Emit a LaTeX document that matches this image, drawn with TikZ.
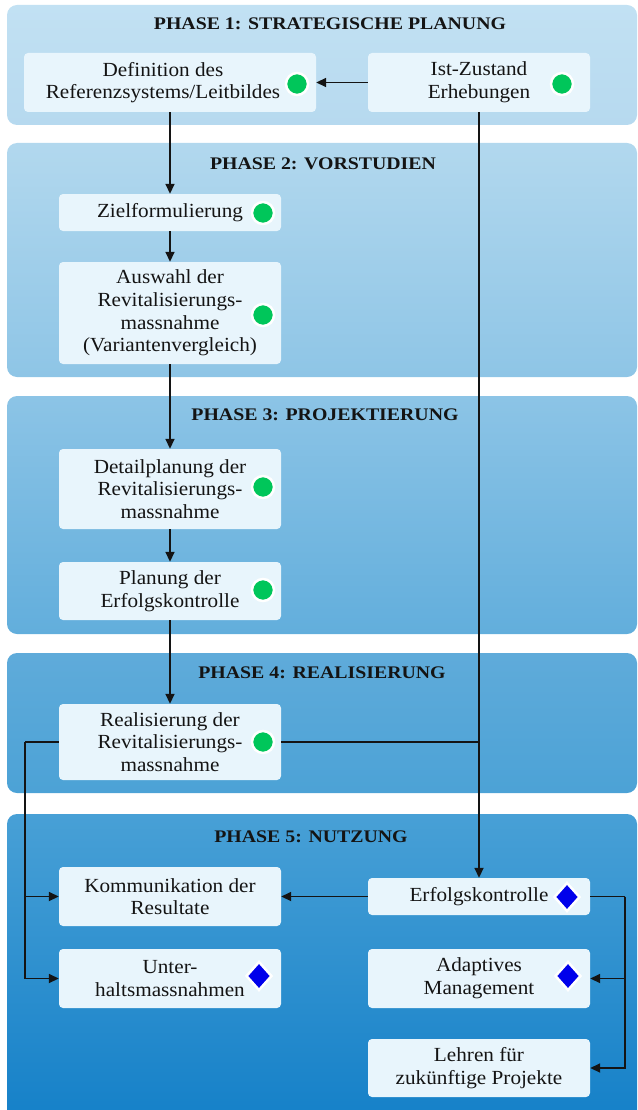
\documentclass[tikz,border=0pt]{standalone}
\usepackage{fontspec}
\setmainfont{Liberation Serif}[FakeStretch=1.06]
\newfontfamily\titlefont{Liberation Serif}[FakeStretch=1.12]
\usetikzlibrary{arrows.meta,shapes.geometric}
\definecolor{boxfill}{HTML}{E8F5FC}
\definecolor{txt}{HTML}{141414}
\definecolor{gdotc}{RGB}{0,198,90}
\definecolor{bdia}{RGB}{0,0,235}
\definecolor{pat}{HTML}{C2E1F3}\definecolor{pab}{HTML}{B6D9EF}
\definecolor{pbt}{HTML}{B2D8EE}\definecolor{pbb}{HTML}{8EC5E6}
\definecolor{pct}{HTML}{8CC4E6}\definecolor{pcb}{HTML}{62AEDC}
\definecolor{pdt}{HTML}{5FABDA}\definecolor{pdb}{HTML}{4CA2D6}
\definecolor{pet}{HTML}{48A0D6}\definecolor{peb}{HTML}{1480C8}
\tikzset{
  panel/.style={rounded corners=10pt},
  box/.style={rectangle, rounded corners=4pt, fill=boxfill, inner sep=0pt, align=center,
    text=txt, font=\fontsize{20}{22.7}\selectfont, minimum width=222pt},
  boxtext/.style={inner sep=0pt, align=center, text=txt, font=\fontsize{20}{22.7}\selectfont},
  ptitle/.style={text=txt, font=\titlefont\bfseries\fontsize{17.7}{20}\selectfont, inner sep=0pt},
  gdot/.style={circle, fill=gdotc, draw=white, line width=2.5pt, minimum size=22pt, inner sep=0pt},
  bdot/.style={diamond, fill=bdia, draw=white, line width=2.5pt, minimum width=26pt, minimum height=29pt, inner sep=0pt},
  arr/.style={-{Triangle[length=10pt,width=9pt]}, line width=1.7pt, draw=black!92},
  plain/.style={line width=1.7pt, draw=black!92}
}
\begin{document}
\begin{tikzpicture}[x=1pt,y=1pt]
\useasboundingbox (0,0) rectangle (637,-1110);
% panels
\shade[panel, top color=pat, bottom color=pab] (7,-5) rectangle (637,-125);
\shade[panel, top color=pbt, bottom color=pbb] (7,-143) rectangle (637,-377);
\shade[panel, top color=pct, bottom color=pcb] (7,-396) rectangle (637,-634);
\shade[panel, top color=pdt, bottom color=pdb] (7,-653) rectangle (637,-793);
\shade[panel, top color=pet, bottom color=peb] (7,-814) rectangle (637,-1125);
% titles
\node[ptitle] (t1) at (330,-24) {PHASE 1: STRATEGISCHE PLANUNG};
\node[ptitle] (t2) at (323,-164) {PHASE 2: VORSTUDIEN};
\node[ptitle] (t3) at (325,-415) {PHASE 3: PROJEKTIERUNG};
\node[ptitle] (t4) at (322,-673) {PHASE 4: REALISIERUNG};
\node[ptitle] (t5) at (311,-837) {PHASE 5: NUTZUNG};
% boxes
\node[box, minimum width=292pt, minimum height=59pt] (def) at (170,-82.5) {};
\node[boxtext] (deft) at (163,-82.5) {Definition des\\Referenzsystems/Leitbildes};
\node[box, minimum height=59pt] (ist) at (479,-82.5) {Ist-Zustand\\Erhebungen};
\node[box, minimum height=37pt] (ziel) at (170,-212.5) {Zielformulierung};
\node[box, minimum height=102pt] (ausw) at (170,-313) {Auswahl der\\Revitalisierungs-\\massnahme\\(Variantenvergleich)};
\node[box, minimum height=80pt] (det) at (170,-489) {Detailplanung der\\Revitalisierungs-\\massnahme};
\node[box, minimum height=58pt] (plan) at (170,-591) {Planung der\\Erfolgskontrolle};
\node[box, minimum height=76pt] (real) at (170,-742) {Realisierung der\\Revitalisierungs-\\massnahme};
\node[box, minimum height=59pt] (komm) at (170,-896.5) {Kommunikation der\\Resultate};
\node[box, minimum height=59pt] (unter) at (170,-978.5) {Unter-\\haltsmassnahmen};
\node[box, minimum height=37pt] (erf) at (479,-896.5) {Erfolgskontrolle};
\node[box, minimum height=59pt] (adapt) at (479,-978.5) {Adaptives\\Management};
\node[box, minimum height=58pt] (lehr) at (479,-1068) {Lehren für\\zukünftige Projekte};
% markers
\node[gdot] (d1) at (297,-84) {};
\node[gdot] (d2) at (562,-84) {};
\node[gdot] (d3) at (263,-213) {};
\node[gdot] (d4) at (263,-315) {};
\node[gdot] (d5) at (263,-487) {};
\node[gdot] (d6) at (263,-590) {};
\node[gdot] (d7) at (263,-742) {};
\node[bdot] (m1) at (567,-897) {};
\node[bdot] (m2) at (259,-976) {};
\node[bdot] (m3) at (568,-976) {};
% connectors
\draw[arr] (ist.west) -- (def.east);
\draw[arr] (def.south) -- (ziel.north);
\draw[arr] (ziel.south) -- (ausw.north);
\draw[arr] (ausw.south) -- (det.north);
\draw[arr] (det.south) -- (plan.north);
\draw[arr] (plan.south) -- (real.north);
\draw[arr] (ist.south) -- (erf.north);
\draw[plain] (real.east) -- (ist.south |- real.east);
\coordinate (lc) at (25,-742);
\draw[plain] (real.west) -- (lc);
\draw[arr] (lc) |- (komm.west);
\draw[arr] (lc) |- (unter.west);
\draw[arr] (erf.west) -- (komm.east);
\coordinate (rc) at (625,-896.5);
\draw[plain] (erf.east) -- (rc);
\draw[arr] (rc) |- (adapt.east);
\draw[arr] (rc) |- (lehr.east);
\end{tikzpicture}
\end{document}
